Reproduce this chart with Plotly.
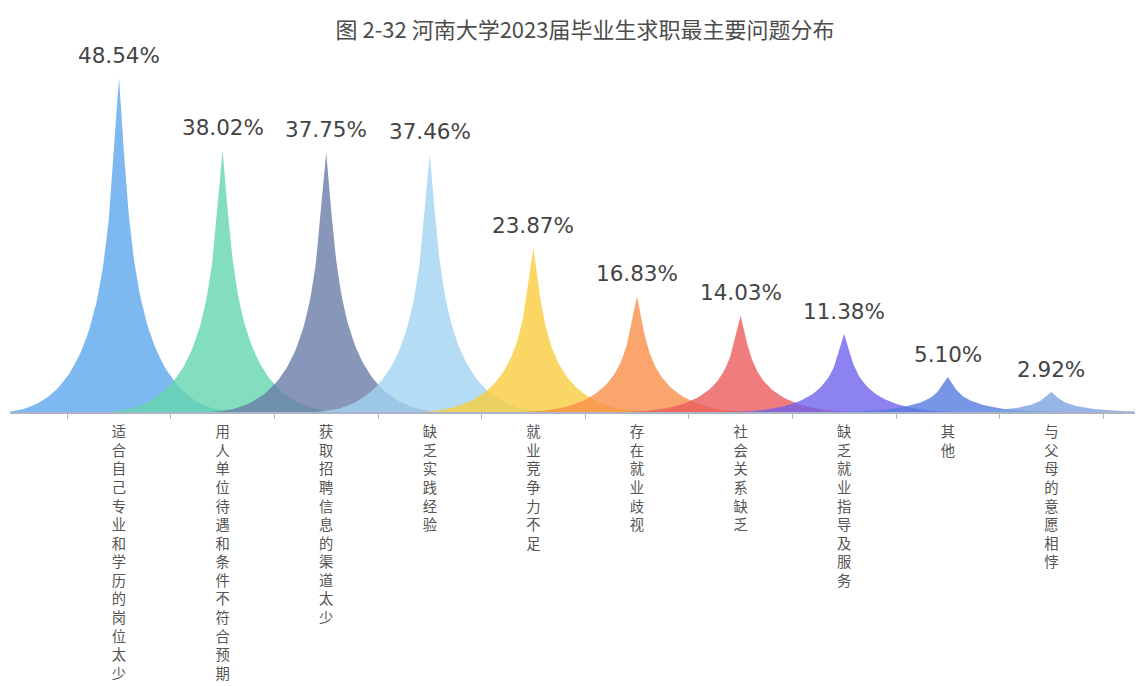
import numpy as np
import plotly.graph_objects as go

# ---- data ----
categories = ["适合自己专业和学历的岗位太少", "用人单位待遇和条件不符合预期", "获取招聘信息的渠道太少",
              "缺乏实践经验", "就业竞争力不足", "存在就业歧视", "社会关系缺乏",
              "缺乏就业指导及服务", "其他", "与父母的意愿相悖"]
values = [48.54, 38.02, 37.75, 37.46, 23.87, 16.83, 14.03, 11.38, 5.10, 2.92]
colors = ["rgba(92,168,236,0.8)", "rgba(99,214,174,0.8)", "rgba(105,124,168,0.8)",
          "rgba(161,211,242,0.8)", "rgba(249,205,61,0.8)", "rgba(249,143,74,0.8)",
          "rgba(236,92,92,0.8)", "rgba(111,99,236,0.8)", "rgba(86,124,224,0.8)",
          "rgba(124,161,224,0.8)"]
title_text = "图 2-32 河南大学2023届毕业生求职最主要问题分布"

HALF_W = 1.15  # half width of spike in category units


def bezier(p0, p1, p2, p3, n=60):
    t = np.linspace(0, 1, n)[:, None]
    p0, p1, p2, p3 = map(np.array, (p0, p1, p2, p3))
    return ((1 - t) ** 3) * p0 + 3 * ((1 - t) ** 2) * t * p1 + 3 * (1 - t) * t ** 2 * p2 + t ** 3 * p3


# spike symbol path: M0,10 L10,10 C5.5,10 5.5,5 5,0 C4.5,5 4.5,10 0,10 z
seg1 = bezier((10, 10), (5.5, 10), (5.5, 5), (5, 0))
seg2 = bezier((5, 0), (4.5, 5), (4.5, 10), (0, 10))
sym = np.vstack([[[0, 10]], seg1, seg2])

fig = go.Figure()
for i, (cat, v, c) in enumerate(zip(categories, values, colors)):
    xs = i + (sym[:, 0] - 5) / 5 * HALF_W
    ys = (10 - sym[:, 1]) / 10 * v
    fig.add_trace(go.Scatter(x=xs, y=ys, mode="lines", fill="toself", fillcolor=c,
                             line=dict(width=0, color=c), hoverinfo="skip", showlegend=False))

for i, v in enumerate(values):
    fig.add_annotation(x=i, y=v, text=f"{v:.2f}%", showarrow=False, yanchor="bottom",
                       yshift=8, font=dict(family="DejaVu Sans", size=21.5, color="#444444"))

W, H = 1135, 678  # page has 8px body margin
spacing = 103.6
left_px, right_px, c0 = 2, 1135, 111
xr = [-(c0 - left_px) / spacing, (right_px - c0) / spacing]

fig.update_layout(
    width=W, height=H,
    margin=dict(l=2, r=0, t=52, b=274),
    paper_bgcolor="white", plot_bgcolor="white",
    title=dict(text=title_text, x=577 / W, xref="container", xanchor="center",
               y=1 - 22 / H, yref="container", yanchor="middle",
               font=dict(family="Noto Sans CJK SC", size=22, color="#4d4d4d")),
    xaxis=dict(range=xr, tickmode="array", tickvals=list(range(len(categories))),
               ticktext=["<br>".join(list(c)) for c in categories],
               ticks="", showgrid=False, zeroline=False, ticklabelstandoff=6,
               showline=True, linecolor="#aab4c4", linewidth=2, layer="above traces",
               tickfont=dict(family="Noto Sans CJK SC", size=14.3, color="#555555"),
               minor=dict(tickmode="array", tickvals=[i - 0.5 for i in range(len(categories) + 1)],
                          ticks="outside", ticklen=5, tickcolor="#aab4c4", tickwidth=1, showgrid=False)),
    yaxis=dict(range=[0, 352 / 6.88], visible=False, showgrid=False, zeroline=False),
)

fig.write_html("out.html")
